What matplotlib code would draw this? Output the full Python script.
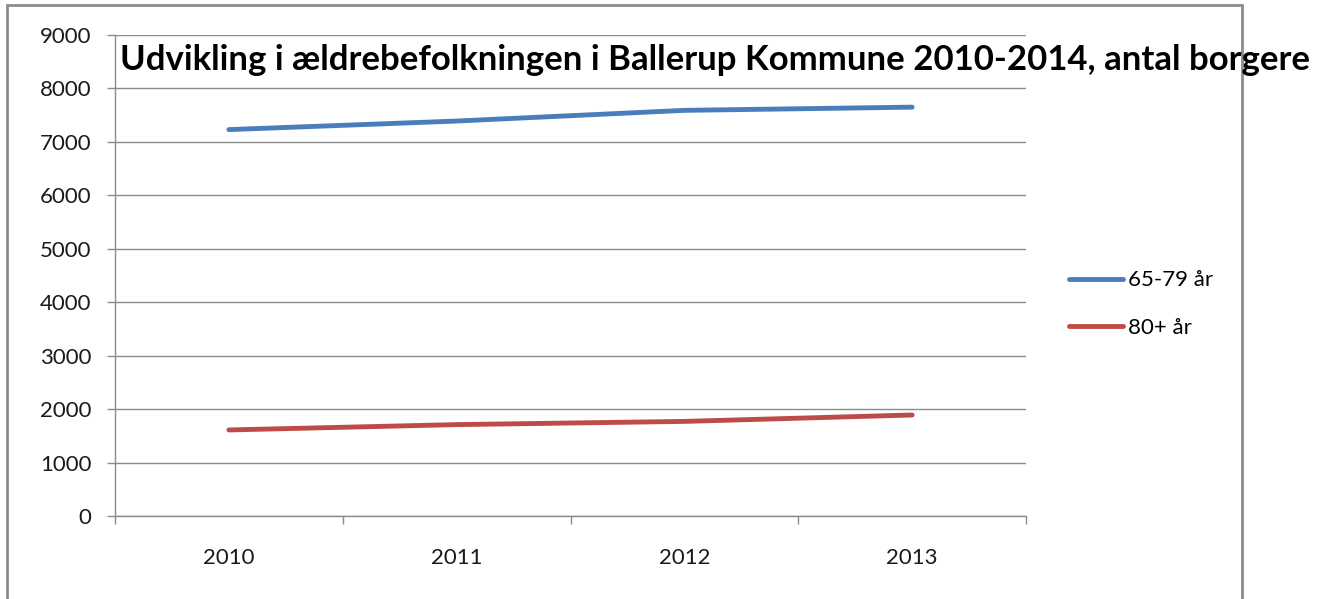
import numpy as np
import matplotlib.pyplot as plt
from matplotlib.patches import Rectangle

years = ['2010', '2011', '2012', '2013']
aar_65_79 = [7230, 7390, 7590, 7650]
aar_80 = [1610, 1710, 1770, 1890]

plt.rcParams['font.family'] = ['Lato', 'DejaVu Sans']

W, H = 1324, 599
fig = plt.figure(figsize=(W / 100, H / 100), dpi=100)

# outer chart frame
fig.patches.append(Rectangle((7 / W, -0.05), (1242 - 7) / W, 1.05 - 5 / H,
                             transform=fig.transFigure, fill=False,
                             edgecolor='#8c8c8c', lw=2))

ax = fig.add_axes([115 / W, 1 - 516 / H, (1026 - 115) / W, (516 - 35) / H])
x = np.arange(len(years))
ax.plot(x, aar_65_79, color='#4a7ebb', lw=3.5, solid_capstyle='round', label='65-79 år')
ax.plot(x, aar_80, color='#be4b48', lw=3.5, solid_capstyle='round', label='80+ år')

ax.set_xlim(-0.5, 3.5)
ax.set_ylim(0, 9000)
ax.set_yticks(range(0, 9001, 1000))
ax.set_xticks(x)
ax.set_xticklabels(years)
ax.set_xticks(np.arange(-0.5, 3.6, 1), minor=True)
ax.tick_params(axis='x', which='major', length=0, pad=23, labelsize=16, colors='#1a1a1a')
ax.tick_params(axis='x', which='minor', length=5.8, width=1, color='#8c8c8c', direction='out')
ax.tick_params(axis='y', length=5.8, width=1, color='#8c8c8c', labelsize=16, pad=11,
               labelcolor='#1a1a1a')
ax.grid(axis='y', color='#8c8c8c', lw=1)
ax.set_axisbelow(True)
for s in ['top', 'right']:
    ax.spines[s].set_visible(False)
for s in ['left', 'bottom']:
    ax.spines[s].set_color('#8c8c8c')
    ax.spines[s].set_linewidth(1)

fig.text(120 / W, 1 - 60 / H, 'Udvikling i ældrebefolkningen i Ballerup Kommune 2010-2014, antal borgere',
         fontsize=25, fontweight='bold', va='center', ha='left', color='black')

ax.legend(loc='center left', bbox_to_anchor=(1.025, 0.44), frameon=False,
          fontsize=16, handlelength=2.45, handletextpad=0.2, labelspacing=1.25)

fig.savefig('out.png', dpi=100)
